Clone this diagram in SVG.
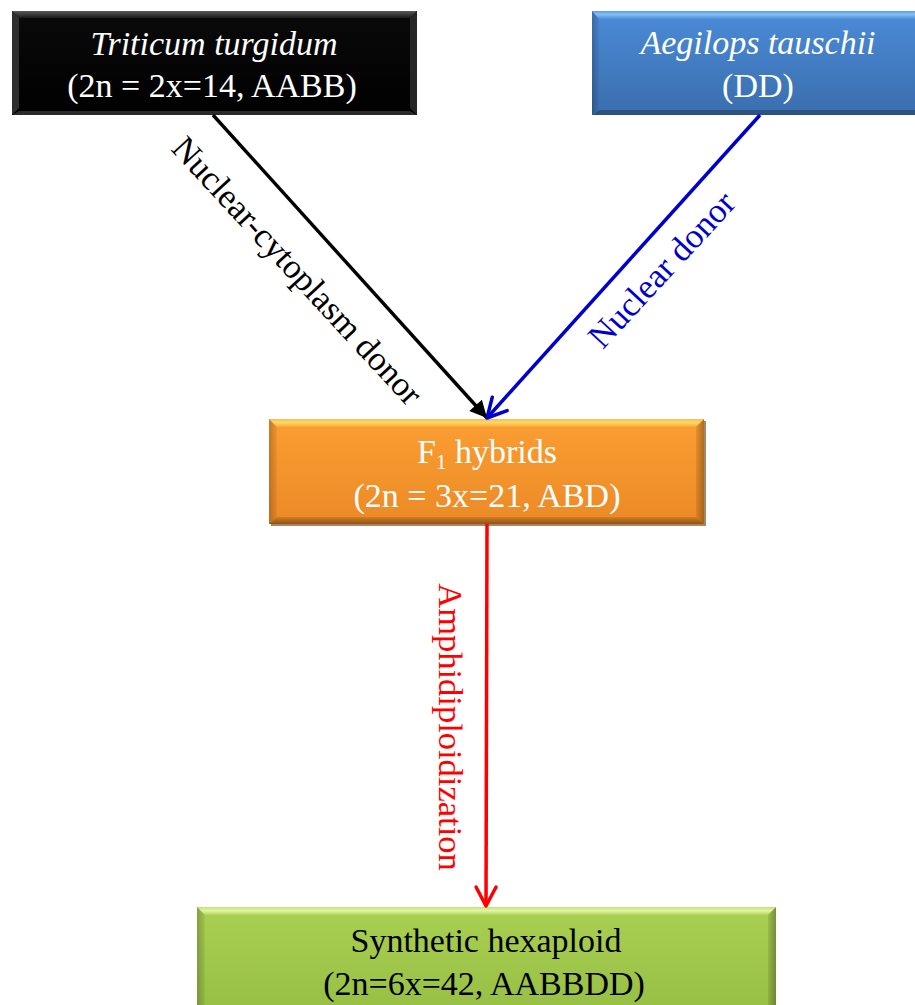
<svg xmlns="http://www.w3.org/2000/svg" width="915" height="1005" viewBox="0 0 915 1005">
<defs>
<style>
.t{font-family:"Liberation Serif","Times New Roman",serif;font-size:34px;text-anchor:middle}
.w{fill:#ffffff}
.k{fill:#000000}
.it{font-style:italic}
.lbl{font-family:"Liberation Serif","Times New Roman",serif;font-size:34.5px;text-anchor:middle}
.bl{fill:url(#ovL)}
.br{fill:url(#ovR)}
.bb{fill:url(#ovB)}
</style>
<linearGradient id="ovL" x1="0" y1="0" x2="1" y2="0"><stop offset="0" stop-color="#000" stop-opacity="0.22"/><stop offset="1" stop-color="#000" stop-opacity="0.05"/></linearGradient>
<linearGradient id="ovR" x1="0" y1="0" x2="1" y2="0"><stop offset="0" stop-color="#000" stop-opacity="0.08"/><stop offset="1" stop-color="#000" stop-opacity="0.3"/></linearGradient>
<linearGradient id="ovB" x1="0" y1="0" x2="0" y2="1"><stop offset="0" stop-color="#000" stop-opacity="0.1"/><stop offset="1" stop-color="#000" stop-opacity="0.4"/></linearGradient>
<linearGradient id="gBlack" x1="0" y1="0" x2="0" y2="1"><stop offset="0" stop-color="#0a0a0a"/><stop offset="1" stop-color="#000000"/></linearGradient>
<linearGradient id="tBlack" x1="0" y1="0" x2="0" y2="1"><stop offset="0" stop-color="#5a5a5a"/><stop offset="1" stop-color="#1a1a1a"/></linearGradient>
<linearGradient id="gBlue" x1="0" y1="0" x2="0" y2="1"><stop offset="0" stop-color="#4b8bd8"/><stop offset="1" stop-color="#3a6ead"/></linearGradient>
<linearGradient id="tBlue" x1="0" y1="0" x2="0" y2="1"><stop offset="0" stop-color="#5d9ae0"/><stop offset="0.4" stop-color="#86c0f4"/><stop offset="1" stop-color="#4f8fda"/></linearGradient>
<linearGradient id="gOrange" x1="0" y1="0" x2="0" y2="1"><stop offset="0" stop-color="#fb9e32"/><stop offset="1" stop-color="#ec8a26"/></linearGradient>
<linearGradient id="tOrange" x1="0" y1="0" x2="0" y2="1"><stop offset="0" stop-color="#f7bb6a"/><stop offset="0.45" stop-color="#ffd95c"/><stop offset="1" stop-color="#fca638"/></linearGradient>
<linearGradient id="gGreen" x1="0" y1="0" x2="0" y2="1"><stop offset="0" stop-color="#a9d052"/><stop offset="1" stop-color="#97bf44"/></linearGradient>
<linearGradient id="tGreen" x1="0" y1="0" x2="0" y2="1"><stop offset="0" stop-color="#c4e07a"/><stop offset="0.45" stop-color="#e2f6a2"/><stop offset="1" stop-color="#b0d45c"/></linearGradient>
<marker id="mBlack" markerUnits="userSpaceOnUse" viewBox="-20 -12 24 24" markerWidth="24" markerHeight="24" refX="0" refY="0" orient="auto" overflow="visible">
<path d="M -17 -8.5 L 0 0 L -17 8.5 z" fill="#000"/>
</marker>
<marker id="mBlue" markerUnits="userSpaceOnUse" viewBox="-24 -14 28 28" markerWidth="28" markerHeight="28" refX="0" refY="0" orient="auto" overflow="visible">
<path d="M -19 -10 L 0 0 L -19 10" fill="none" stroke="#0000cc" stroke-width="3.5" stroke-linecap="round" stroke-linejoin="round"/>
</marker>
<marker id="mRed" markerUnits="userSpaceOnUse" viewBox="-24 -14 28 28" markerWidth="28" markerHeight="28" refX="0" refY="0" orient="auto" overflow="visible">
<path d="M -19 -10 L 0 0 L -19 10" fill="none" stroke="#ff0000" stroke-width="3.5" stroke-linecap="round" stroke-linejoin="round"/>
</marker>
</defs>
<rect x="0" y="0" width="915" height="1005" fill="#ffffff"/>

<g id="node-triticum">
<rect x="12" y="11" width="405" height="104" fill="url(#gBlack)"/>
<polygon points="12,11 417,11 410,18 19,18" fill="url(#tBlack)"/>
<polygon points="12,11 19,18 19,108 12,115" fill="#2e2e2e"/>
<polygon points="417,11 410,18 410,108 417,115" fill="#262626"/>
<polygon points="12,115 417,115 410,111 19,111" fill="#2a2a2a"/>
<text class="t w it" x="214" y="55">Triticum turgidum</text>
<text class="t w" x="212" y="97">(2n = 2x=14, AABB)</text>
</g>

<g id="node-aegilops">
<rect x="592" y="11" width="340" height="104" fill="url(#gBlue)"/>
<polygon points="592,11 932,11 925,19 599,19" fill="url(#tBlue)"/>
<polygon points="592,11 599,19 599,108 592,115" class="bl"/>
<polygon points="592,115 932,115 925,110 599,110" fill="#2c4d7a" opacity="0.85"/>
<text class="t w it" x="758" y="54">Aegilops tauschii</text>
<text class="t w" x="758" y="97">(DD)</text>
</g>

<g id="node-f1">
<rect x="271" y="421" width="435" height="105" fill="#8d6842" opacity="0.8"/>
<rect x="269" y="419" width="435" height="105" fill="url(#gOrange)"/>
<polygon points="269,419 704,419 696,427 277,427" fill="url(#tOrange)"/>
<polygon points="269,419 277,427 277,517 269,524" class="bl"/>
<polygon points="704,419 696,427 696,517 704,524" class="br"/>
<polygon points="269,524 704,524 696,517 277,517" class="bb"/>
<text class="t w" x="487" y="463">F<tspan font-size="21" dy="6">1</tspan><tspan dy="-6"> hybrids</tspan></text>
<text class="t w" x="487" y="507">(2n = 3x=21, ABD)</text>
</g>

<g id="node-synthetic">
<rect x="197" y="907" width="579" height="105" fill="url(#gGreen)"/>
<polygon points="197,907 776,907 768,915 205,915" fill="url(#tGreen)"/>
<polygon points="197,907 205,915 205,1010 197,1012" class="bl"/>
<polygon points="776,907 768,915 768,1010 776,1012" class="br"/>
<text class="t k" x="486" y="952">Synthetic hexaploid</text>
<text class="t k" x="484" y="995">(2n=6x=42, AABBDD)</text>
</g>

<g id="connectors">
<line x1="213" y1="115" x2="487" y2="418" stroke="#000" stroke-width="3.4" marker-end="url(#mBlack)"/>
<line x1="760" y1="115" x2="487" y2="418" stroke="#0000cc" stroke-width="3.5" marker-end="url(#mBlue)"/>
<line x1="487" y1="524" x2="486" y2="906" stroke="#ff0000" stroke-width="3.5" marker-end="url(#mRed)"/>
<text class="lbl k" transform="translate(297,271) rotate(47.3)" x="0" y="11">Nuclear-cytoplasm donor</text>
<text class="lbl" fill="#0000cc" transform="translate(662,270) rotate(-47.3)" x="0" y="11">Nuclear donor</text>
<text class="lbl" fill="#ff0000" font-size="36" transform="translate(450,727) rotate(90)" x="0" y="11">Amphidiploidization</text>
</g>
</svg>
